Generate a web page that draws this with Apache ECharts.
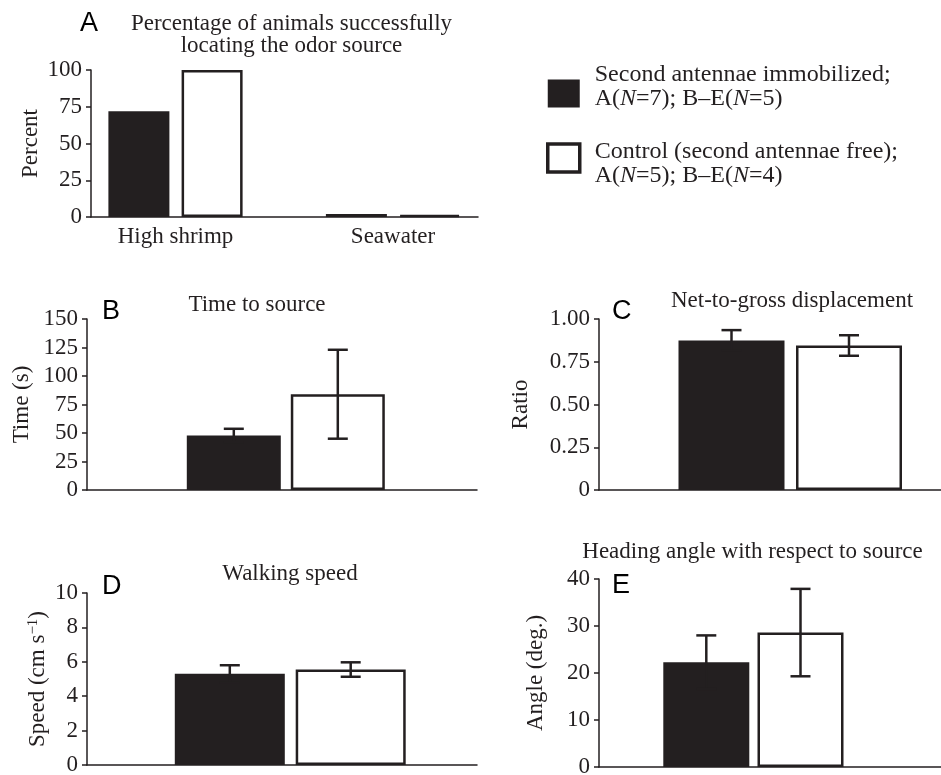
<!DOCTYPE html>
<html>
<head>
<meta charset="utf-8">
<script src="https://cdn.jsdelivr.net/npm/echarts@6/dist/echarts.min.js"></script>
<style>
html, body { margin: 0; padding: 0; background: #fff; }
#chart { width: 941px; height: 775px; }
</style>
</head>
<body>
<div id="chart"></div>
<script>
// data
var groupNames = ['Second antennae immobilized', 'Control'];
var legendLabels = [
  'Second antennae immobilized;\nA({i|N}=7); B–E({i|N}=5)',
  'Control (second antennae free);\nA({i|N}=5); B–E({i|N}=4)'
];
var odorCategories = ['High shrimp', 'Seawater'];
var pctImmobilized = [72, 0];
var pctControl = [100, 0];

var timeMean = [47.8, 84];
var timeSE = [5.9, 39];
var ratioMean = [0.875, 0.845];
var ratioSE = [0.06, 0.06];
var speedMean = [5.3, 5.55];
var speedSE = [0.5, 0.42];
var angleMean = [22.3, 28.6];
var angleSE = [5.7, 9.3];

var ink = '#231f20';
var serif = '"Liberation Serif", "Times New Roman", serif';
var sans = '"Liberation Sans", Arial, sans-serif';

var barStyles = [
  { color: ink },
  { color: '#fff', borderColor: ink, borderWidth: 2.5 }
];

var chartDom = document.getElementById('chart');
var myChart = echarts.init(chartDom);

var grids = [];
var xAxes = [];
var yAxes = [];
var series = [];
var texts = [];

function errorBars(params, api) {
  var x = api.value(0);
  var m = api.value(1);
  var e = api.value(2);
  var hi = api.coord([x, m + e]);
  var lo = api.coord([x, m - e]);
  var st = { stroke: ink, lineWidth: 2.5 };
  return {
    type: 'group',
    children: [
      { type: 'line', shape: { x1: hi[0], y1: hi[1], x2: lo[0], y2: lo[1] }, style: st },
      { type: 'line', shape: { x1: hi[0] - 10, y1: hi[1], x2: hi[0] + 10, y2: hi[1] }, style: st },
      { type: 'line', shape: { x1: lo[0] - 10, y1: lo[1], x2: lo[0] + 10, y2: lo[1] }, style: st }
    ]
  };
}

// one panel = a frame grid (axis lines, ticks, labels) + a plot grid holding the bars
function addPanel(p) {
  var g = grids.length;
  grids.push({ left: p.left, top: p.top, width: p.width, height: p.height, containLabel: false, outerBoundsMode: 'none' });
  grids.push({ left: p.plotLeft, top: p.top, width: p.plotWidth, height: p.height, containLabel: false, outerBoundsMode: 'none' });

  xAxes.push({
    gridIndex: g, type: 'value', min: 0, max: 1,
    axisLine: { show: true, onZero: false, lineStyle: { color: ink, width: 1.5 } },
    axisTick: { show: false }, axisLabel: { show: false }, splitLine: { show: false }
  });
  xAxes.push({
    gridIndex: g + 1, type: 'category', data: p.categories,
    axisLine: { show: false }, axisTick: { show: false },
    axisLabel: { show: !!p.showCats, color: ink, fontSize: 23, fontFamily: serif, margin: 8 }
  });

  yAxes.push({
    gridIndex: g, type: 'value', min: p.min, max: p.max, interval: p.interval,
    name: p.yName, nameLocation: 'middle', nameGap: p.nameGap,
    nameTextStyle: p.nameStyle || { color: ink, fontSize: 23, fontFamily: serif },
    axisLine: { show: true, lineStyle: { color: ink, width: 1.5 } },
    axisTick: { show: true, length: 5, lineStyle: { color: ink, width: 1.5 } },
    axisLabel: { color: ink, fontSize: 23, fontFamily: serif, margin: 9, formatter: p.fmt },
    splitLine: { show: false }
  });
  yAxes.push({ gridIndex: g + 1, type: 'value', min: p.min, max: p.max, show: false });

  if (p.series) {
    p.series.forEach(function (s) {
      s.xAxisIndex = g + 1;
      s.yAxisIndex = g + 1;
      series.push(s);
    });
  } else {
    series.push({
      type: 'bar', name: p.title,
      xAxisIndex: g + 1, yAxisIndex: g + 1,
      barWidth: p.barWidth,
      data: p.mean.map(function (v, i) { return { value: v, itemStyle: barStyles[i] }; })
    });
    series.push({
      type: 'custom', name: p.title + ' SE',
      xAxisIndex: g + 1, yAxisIndex: g + 1, z: 5,
      renderItem: errorBars,
      encode: { x: 0, y: 1 },
      data: p.mean.map(function (v, i) { return [i, v, p.se[i]]; })
    });
  }

  texts.push({
    type: 'text', x: p.titleX, y: p.titleY,
    style: { text: p.title, font: '23px ' + serif, fill: ink, align: 'center', verticalAlign: 'middle', lineHeight: 22 }
  });
  texts.push({
    type: 'text', x: p.letterX, y: p.letterY,
    style: { text: p.letter, font: '27px ' + sans, fill: '#000', align: 'left', verticalAlign: 'middle' }
  });
}

addPanel({
  letter: 'A', letterX: 80, letterY: 24,
  title: 'Percentage of animals successfully\nlocating the odor source', titleX: 291.5, titleY: 35,
  left: 91, top: 70, width: 387, height: 147,
  plotLeft: 66.75, plotWidth: 435,
  categories: odorCategories, showCats: true,
  min: 0, max: 100, interval: 25, yName: 'Percent', nameGap: 49,
  series: [
    { type: 'bar', name: groupNames[0], data: pctImmobilized, barWidth: 61, barGap: '20%', barMinHeight: 3, itemStyle: barStyles[0] },
    { type: 'bar', name: groupNames[1], data: pctControl, barWidth: 61, barGap: '20%', barMinHeight: 2, itemStyle: barStyles[1] }
  ]
});

addPanel({
  letter: 'B', letterX: 102, letterY: 312,
  title: 'Time to source', titleX: 257, titleY: 305,
  left: 87, top: 319, width: 390, height: 171,
  plotLeft: 181.8, plotWidth: 208,
  categories: groupNames, barWidth: 94,
  min: 0, max: 150, interval: 25, yName: 'Time (s)', nameGap: 54,
  mean: timeMean, se: timeSE
});

addPanel({
  letter: 'C', letterX: 612, letterY: 312,
  title: 'Net-to-gross displacement', titleX: 792, titleY: 301,
  left: 599, top: 319, width: 342, height: 171,
  plotLeft: 672.75, plotWidth: 235,
  categories: groupNames, barWidth: 106,
  min: 0, max: 1, interval: 0.25, yName: 'Ratio', nameGap: 67,
  fmt: function (v) { return v === 0 ? '0' : v.toFixed(2); },
  mean: ratioMean, se: ratioSE
});

addPanel({
  letter: 'D', letterX: 102, letterY: 587,
  title: 'Walking speed', titleX: 290, titleY: 574,
  left: 87, top: 593, width: 390, height: 172,
  plotLeft: 169.35, plotWidth: 241.8,
  categories: groupNames, barWidth: 110,
  min: 0, max: 10, interval: 2, yName: 'Speed (cm s{sup|−1})', nameGap: 40,
  nameStyle: {
    color: ink, fontSize: 23, fontFamily: serif, lineHeight: 26, verticalAlign: 'middle',
    rich: { sup: { fontSize: 15, fontFamily: serif, color: ink, lineHeight: 15, verticalAlign: 'top' } }
  },
  mean: speedMean, se: speedSE
});

addPanel({
  letter: 'E', letterX: 612, letterY: 586,
  title: 'Heading angle with respect to source', titleX: 752.5, titleY: 552,
  left: 599, top: 579, width: 342, height: 188,
  plotLeft: 659.2, plotWidth: 188.4,
  categories: groupNames, barWidth: 86,
  min: 0, max: 40, interval: 10, yName: 'Angle (deg.)', nameGap: 52,
  mean: angleMean, se: angleSE
});

var option = {
  animation: false,
  textStyle: { fontFamily: serif, color: ink },
  legend: {
    orient: 'vertical', left: 546, top: 63, padding: 0,
    itemWidth: 32, itemHeight: 28, itemGap: 4.5,
    selectedMode: false, icon: 'rect',
    formatter: function (name) { return legendLabels[groupNames.indexOf(name)]; },
    textStyle: {
      color: ink, fontSize: 24, fontFamily: serif, lineHeight: 24,
      rich: { i: { fontStyle: 'italic', fontSize: 24, fontFamily: serif, lineHeight: 24, color: ink } }
    },
    data: [
      { name: groupNames[0], itemStyle: { color: ink, borderWidth: 0 }, textStyle: { padding: [0, 0, 13, 10] } },
      { name: groupNames[1], itemStyle: { color: '#fff', borderColor: ink, borderWidth: 3.5 }, textStyle: { padding: [11, 0, 0, 10] } }
    ]
  },
  grid: grids,
  xAxis: xAxes,
  yAxis: yAxes,
  graphic: texts,
  series: series
};

option && myChart.setOption(option);
</script>
</body>
</html>
